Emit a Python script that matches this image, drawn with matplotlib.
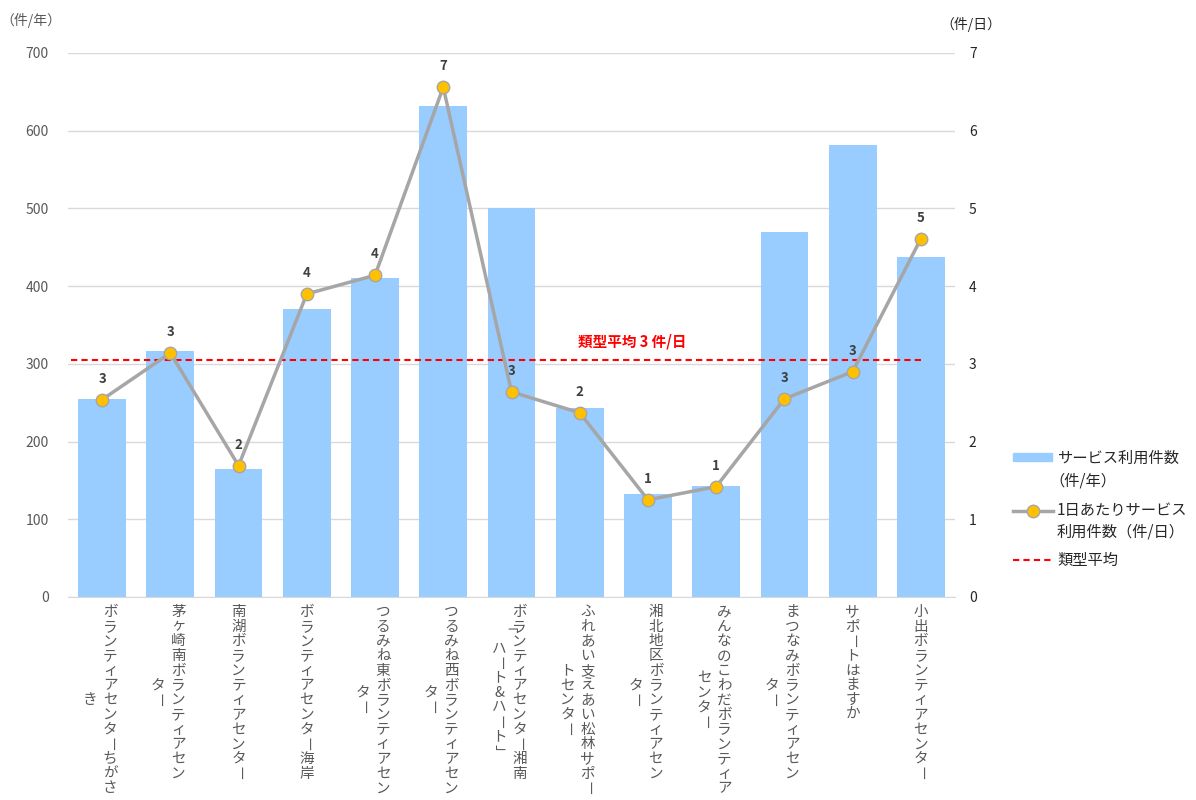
import matplotlib
matplotlib.use("Agg")
import matplotlib.pyplot as plt
from matplotlib.lines import Line2D
from matplotlib.patches import Rectangle

plt.rcParams['font.family'] = ['Noto Sans CJK JP', 'DejaVu Sans']

# ---- data ----
categories = [
    ["ボランティアセンターちがさ", "き"],
    ["茅ヶ崎南ボランティアセン", "ター"],
    ["南湖ボランティアセンター"],
    ["ボランティアセンター海岸"],
    ["つるみね東ボランティアセン", "ター"],
    ["つるみね西ボランティアセン", "ター"],
    ["ボランティアセンター湘南", "「ハート&ハート」"],
    ["ふれあい支えあい松林サポー", "トセンター"],
    ["湘北地区ボランティアセン", "ター"],
    ["みんなのこわだボランティア", "センター"],
    ["まつなみボランティアセン", "ター"],
    ["サポートはますか"],
    ["小出ボランティアセンター"],
]
annual = [255, 317, 165, 370, 411, 632, 501, 243, 132, 143, 470, 582, 437]
daily = [2.54, 3.14, 1.69, 3.90, 4.14, 6.56, 2.64, 2.37, 1.25, 1.42, 2.55, 2.90, 4.61]
daily_labels = ["3", "3", "2", "4", "4", "7", "3", "2", "1", "1", "3", "3", "5"]
type_avg = 3.05
avg_label = "類型平均 3 件/日"
left_ticks = [0, 100, 200, 300, 400, 500, 600, 700]
right_ticks = [0, 1, 2, 3, 4, 5, 6, 7]
legend_labels = ["サービス利用件数\n（件/年）", "1日あたりサービス\n利用件数（件/日）", "類型平均"]

BAR_C = "#99CCFF"
LINE_C = "#A6A6A6"
MARK_C = "#FFC000"
TICK_C = "#595959"

fig = plt.figure(figsize=(11.96, 8.0), dpi=100)
W, H = 1196, 800
ax = fig.add_axes([68 / W, 1 - 597 / H, (955 - 68) / W, (597 - 53) / H])
ax2 = ax.twinx()

x = list(range(len(annual)))
ax.bar(x, annual, width=0.7, color=BAR_C, zorder=2)
ax.set_xlim(-0.5, len(annual) - 0.5)
ax.set_ylim(0, 700)
ax.set_yticks(left_ticks)
ax.grid(axis='y', color="#D9D9D9", linewidth=1, zorder=0)
ax.set_axisbelow(True)
for s in ['top', 'right', 'left']:
    ax.spines[s].set_visible(False)
ax.spines['bottom'].set_color("#D9D9D9")
ax.tick_params(axis='y', length=0, labelsize=10, labelcolor=TICK_C, pad=14)
ax.tick_params(axis='x', length=0, labelbottom=False)

ax2.set_ylim(0, 7)
ax2.set_yticks(right_ticks)
for s in ax2.spines.values():
    s.set_visible(False)
ax2.tick_params(axis='y', length=0, labelsize=10, labelcolor="#262626", pad=10)

ax2.plot(x, daily, color=LINE_C, linewidth=2.5, marker='o', markersize=9,
         markerfacecolor=MARK_C, markeredgecolor=LINE_C, markeredgewidth=1, zorder=4)
for xi, yi, lab in zip(x, daily, daily_labels):
    ax2.annotate(lab, (xi, yi), xytext=(0, 15), textcoords='offset points',
                 ha='center', va='center', fontsize=9.5, fontweight='bold', color="#404040")

ax2.plot([-0.45, len(annual) - 1], [type_avg, type_avg], color="red",
         linestyle=(0, (3, 2)), linewidth=1.5, zorder=3)
ax2.text(7.77, 3.29, avg_label, color="red", fontsize=10.5, fontweight='bold',
         ha='center', va='center')

# ---- vertical category labels ----
PX = 0.72
pitch = 14.7
col_gap = 20
for i, cols in enumerate(categories):
    nmax = max(len(c) for c in cols)
    ncols = len(cols)
    for j, col in enumerate(cols):
        if ncols == 1:
            xoff = 0
        else:
            xoff = 8 - j * col_gap
        start = (nmax - len(col)) / 2.0
        for k, ch in enumerate(col):
            yoff = -(15 + (start + k) * pitch)
            rot = 0
            if ch in "ー「」":
                rot = -90
            ax.annotate(ch, (i, 0), xytext=(xoff * PX, yoff * PX), textcoords='offset points',
                        ha='center', va='center', fontsize=10.5, color=TICK_C,
                        rotation=rot, annotation_clip=False)

# ---- axis unit labels ----
fig.text(0 / W, 1 - 20 / H, "（件/年）", fontsize=10, color=TICK_C, ha='left', va='center')
fig.text(940 / W, 1 - 24 / H, "（件/日）", fontsize=10, color="#262626", ha='left', va='center')

# ---- legend (manual) ----
fig.add_artist(Rectangle((1013 / W, 1 - 461 / H), 39 / W, 8 / H, color=BAR_C,
                         transform=fig.transFigure))
fig.text(1057 / W, 1 - 458 / H, legend_labels[0].split("\n")[0], fontsize=11, color="#262626", va='center')
fig.text(1049 / W, 1 - 481 / H, legend_labels[0].split("\n")[1], fontsize=11, color="#262626", va='center')
fig.add_artist(Line2D([1013 / W, 1053 / W], [1 - 511 / H, 1 - 511 / H], color=LINE_C, linewidth=2.5,
                      transform=fig.transFigure))
fig.add_artist(Line2D([1033 / W], [1 - 511 / H], marker='o', markersize=9, markerfacecolor=MARK_C,
                      markeredgecolor=LINE_C, transform=fig.transFigure))
fig.text(1057 / W, 1 - 511 / H, legend_labels[1].split("\n")[0], fontsize=11, color="#262626", va='center')
fig.text(1057 / W, 1 - 532 / H, legend_labels[1].split("\n")[1], fontsize=11, color="#262626", va='center')
fig.add_artist(Line2D([1013 / W, 1053 / W], [1 - 560 / H, 1 - 560 / H], color="red", linewidth=1.5,
                      linestyle=(0, (3, 2)), transform=fig.transFigure))
fig.text(1057 / W, 1 - 560 / H, legend_labels[2], fontsize=11, color="#262626", va='center')

fig.savefig("out.png", dpi=100)
